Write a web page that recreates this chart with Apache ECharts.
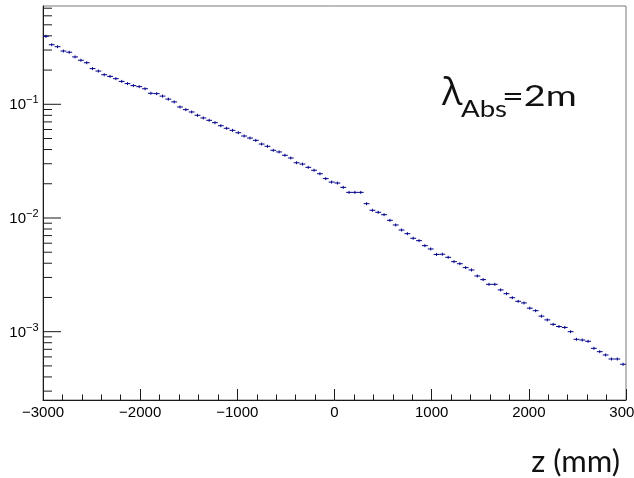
<!DOCTYPE html>
<html>
<head>
<meta charset="utf-8">
<script src="https://cdn.jsdelivr.net/npm/echarts@6/dist/echarts.min.js"></script>
<style>
  html, body { margin: 0; padding: 0; background: #fff; }
  #chart { width: 634px; height: 478px; }
</style>
</head>
<body>
<div id="chart"></div>
<script>
// Histogram binning along z (mm)
const zMin = -3000;
const zMax = 3000;
const binWidth = 60;

// Bin contents, one per 60 mm bin from -3000 to 3000
const counts = [
  0.396, 0.334, 0.321, 0.294, 0.287, 0.261, 0.244, 0.232, 0.206, 0.196,
  0.182, 0.176, 0.168, 0.159, 0.152, 0.146, 0.143, 0.137, 0.125, 0.124,
  0.118, 0.111, 0.105, 0.0947, 0.0897, 0.0856, 0.0800, 0.0758, 0.0723, 0.0689,
  0.0648, 0.0615, 0.0590, 0.0562, 0.0526, 0.0505, 0.0482, 0.0447, 0.0427, 0.0394,
  0.0381, 0.0356, 0.0337, 0.0306, 0.0298, 0.0279, 0.0263, 0.0245, 0.0222, 0.0207,
  0.0203, 0.0186, 0.0168, 0.0168, 0.0168, 0.01336, 0.01169, 0.01122, 0.01069, 0.00954,
  0.00868, 0.00784, 0.00728, 0.00663, 0.00632, 0.00571, 0.00534, 0.00478, 0.00480, 0.00451,
  0.00413, 0.00396, 0.00366, 0.00349, 0.00309, 0.00287, 0.00261, 0.00261, 0.00233, 0.00216,
  0.00199, 0.00185, 0.00179, 0.00161, 0.00153, 0.00137, 0.00127, 0.00116, 0.00111, 0.00109,
  0.00100, 0.000857, 0.000845, 0.000823, 0.000714, 0.000667, 0.000624, 0.000575, 0.000575, 0.000517
];

// Axis ticks
const xMajorStep = 1000;
const xMinorPerMajor = 5;
const yDecades = [-3, -2, -1];
const yMinorMantissas = [2, 3, 4, 5, 6, 7, 8, 9];
const yRange = [2.507e-4, 0.732];

// Annotation texts
const xTitle = 'z (mm)';
const lambdaText = ['\u03bb', 'Abs', '=2m'];

const binCenters = counts.map((_, i) => zMin + binWidth * (i + 0.5));
const points = counts.map((v, i) => [binCenters[i], v]);

// Y tick list: [x at axis, value, isMajor, exponent]
const yTicks = [];
yDecades.forEach(e => yTicks.push([zMin, Math.pow(10, e), 1, e]));
for (let e = -4; e <= -1; e++) {
  yMinorMantissas.forEach(m => {
    const v = m * Math.pow(10, e);
    if (v > yRange[0] && v < yRange[1]) yTicks.push([zMin, v, 0, e]);
  });
}

const AXIS_COLOR = '#1a1a1a';
const DATA_COLOR = '#00008b';
const LABEL_FONT = '"Liberation Sans", Arial, sans-serif';
const NOTE_FONT = 'Lato, "Open Sans", sans-serif';

const chart = echarts.init(document.getElementById('chart'), null, { renderer: 'canvas' });

chart.setOption({
  animation: false,
  backgroundColor: '#fff',
  grid: {
    left: 43, top: 6, width: 583, height: 394,
    show: true, borderColor: '#7a7a7a', borderWidth: 1,
    containLabel: false,
    outerBoundsMode: 'none'
  },
  xAxis: {
    type: 'value',
    min: zMin, max: zMax, interval: xMajorStep,
    axisLine: { show: true, onZero: false, lineStyle: { color: AXIS_COLOR, width: 1 } },
    axisTick: { show: true, inside: true, length: 11, lineStyle: { color: AXIS_COLOR, width: 1 } },
    minorTick: { show: true, splitNumber: xMinorPerMajor, length: 5.5, lineStyle: { color: AXIS_COLOR, width: 1 } },
    splitLine: { show: false },
    axisLabel: {
      show: true, margin: 5, fontSize: 15, fontFamily: LABEL_FONT, color: '#000',
      showMinLabel: true, showMaxLabel: true,
      formatter: v => String(v).replace('-', '\u2212')
    }
  },
  yAxis: {
    type: 'log', logBase: 10,
    min: yRange[0], max: yRange[1],
    axisLine: { show: true, onZero: false, lineStyle: { color: AXIS_COLOR, width: 1 } },
    axisTick: { show: false },
    minorTick: { show: false },
    axisLabel: { show: false },
    splitLine: { show: false }
  },
  series: [
    {
      // logarithmic y ticks and 10^n labels
      type: 'custom',
      data: yTicks,
      silent: true,
      z: 3,
      renderItem: (params, api) => {
        const p = api.coord([api.value(0), api.value(1)]);
        const major = api.value(2) === 1;
        const len = major ? 18 : 9;
        const children = [{
          type: 'line',
          shape: { x1: p[0], y1: p[1], x2: p[0] + len, y2: p[1] },
          style: { stroke: AXIS_COLOR, lineWidth: 1 }
        }];
        if (major) {
          const exp = api.value(3);
          children.push({
            type: 'text',
            style: {
              text: '10', x: p[0] - 17, y: p[1] + 1,
              align: 'right', verticalAlign: 'middle',
              fontSize: 15, fontFamily: LABEL_FONT, fill: '#000'
            }
          });
          children.push({
            type: 'text',
            style: {
              text: '\u2212' + Math.abs(exp), x: p[0] - 17, y: p[1] - 4,
              align: 'left', verticalAlign: 'middle',
              fontSize: 11, fontFamily: LABEL_FONT, fill: '#000'
            }
          });
        }
        return { type: 'group', children };
      }
    },
    {
      // histogram bins drawn as bin-width bars with a small vertical error mark
      type: 'custom',
      data: points,
      z: 4,
      renderItem: (params, api) => {
        const z = api.value(0);
        const v = api.value(1);
        const left = api.coord([z - binWidth / 2, v]);
        const right = api.coord([z + binWidth / 2, v]);
        const mid = api.coord([z, v]);
        return {
          type: 'group',
          children: [
            {
              type: 'line',
              shape: { x1: left[0], y1: left[1], x2: right[0], y2: right[1] },
              style: { stroke: DATA_COLOR, lineWidth: 1 }
            },
            {
              type: 'line',
              shape: { x1: mid[0], y1: mid[1] - 1.5, x2: mid[0], y2: mid[1] + 1.5 },
              style: { stroke: DATA_COLOR, lineWidth: 1 }
            }
          ]
        };
      }
    }
  ],
  graphic: [
    {
      type: 'text', x: 442, y: 94,
      style: { text: lambdaText[0], fontSize: 38, fontFamily: '"Open Sans", sans-serif', fill: '#111', align: 'left', verticalAlign: 'middle' }
    },
    {
      type: 'text', x: 461, y: 110, scaleX: 1.2,
      style: { text: lambdaText[1], fontSize: 23, fontFamily: NOTE_FONT, fill: '#111', align: 'left', verticalAlign: 'middle' }
    },
    {
      type: 'text', x: 502, y: 97, scaleX: 1.3,
      style: { text: lambdaText[2], fontSize: 29, fontFamily: NOTE_FONT, fill: '#111', align: 'left', verticalAlign: 'middle' }
    },
    {
      type: 'text', x: 620, y: 462,
      style: { text: xTitle, fontSize: 31, fontFamily: NOTE_FONT, fill: '#111', align: 'right', verticalAlign: 'middle' }
    }
  ]
});
</script>
</body>
</html>
